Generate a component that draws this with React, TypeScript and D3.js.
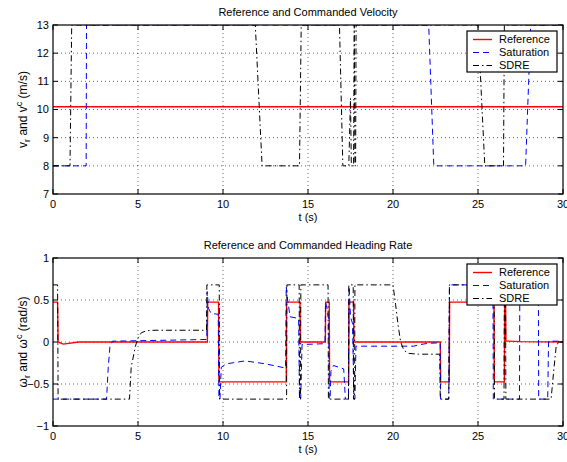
import * as d3 from 'd3'

const W = 567
const H = 462

// x axis, shared by both panels
const xTicks = [0, 5, 10, 15, 20, 25, 30]

// top panel: velocity (m/s)
const velTicks = [7, 8, 9, 10, 11, 12, 13]
const velRefT = [0, 30]
const velRefV = [10.1, 10.1]
const velSatT = [0, 1.95, 1.97, 22.1, 22.4, 27.8, 28.1, 30]
const velSatV = [8, 8, 13, 13, 8, 8, 13, 13]
const velSdreT = [0, 1.0, 1.1, 11.9, 12.3, 14.5, 14.6, 16.85, 17.05, 17.4, 17.5, 17.55, 17.68, 17.72, 17.76, 17.8, 17.83, 25.0, 25.4, 26.5, 26.55, 30]
const velSdreV = [8, 8, 13, 13, 8, 8, 13, 13, 8, 8, 10.4, 8, 8, 13, 8, 8, 13, 13, 8, 8, 13, 13]

// bottom panel: heading rate (rad/s)
const rateTicks = [-1, -0.5, 0, 0.5, 1]
const rateTickLabels = ['\u22121', '\u22120.5', '0', '0.5', '1']
const rateRefT = [0, 0.27, 0.3, 0.6, 1.5, 9.08, 9.1, 9.74, 9.76, 13.72, 13.74, 14.53, 14.55, 16.02, 16.04, 16.25, 16.27, 17.39, 17.41, 17.68, 17.7, 22.78, 22.8, 23.31, 23.33, 25.94, 25.96, 26.55, 26.57, 26.62, 26.64, 27.5, 30]
const rateRefV = [0.475, 0.475, 0, -0.025, 0, 0, 0.475, 0.475, -0.475, -0.475, 0.475, 0.475, 0, 0, 0.475, 0.475, -0.475, -0.475, 0.475, 0.475, 0, 0, -0.475, -0.475, 0.475, 0.475, -0.475, -0.475, 0.475, 0.475, 0.012, 0.005, 0]
const rateSatT = [0, 3.15, 3.25, 3.35, 3.5, 5, 9.05, 9.07, 9.15, 9.3, 9.72, 9.76, 9.82, 9.9, 10.2, 11.3, 12.5, 13.68, 13.72, 13.8, 13.95, 14.45, 14.5, 14.57, 14.65, 16.0, 16.03, 16.12, 16.22, 16.25, 16.3, 16.35, 16.5, 17.1, 17.2, 17.38, 17.42, 17.5, 17.62, 17.7, 17.76, 17.82, 21.2, 21.6, 22.1, 22.78, 22.8, 23.28, 23.32, 25.88, 25.9, 27.44, 27.46, 28.55, 28.57, 29.1, 29.15, 30]
const rateSatV = [-0.68, -0.68, -0.3, -0.05, 0.01, 0.015, 0.03, 0.6, 0.4, 0.34, 0.33, -0.68, -0.68, -0.3, -0.26, -0.225, -0.26, -0.31, 0.66, 0.5, 0.3, 0.28, -0.68, -0.68, -0.03, -0.02, 0.47, 0.4, 0.26, -0.68, -0.68, -0.35, -0.28, -0.32, -0.68, -0.68, 0.66, 0.3, 0.22, -0.68, -0.68, -0.05, -0.05, -0.03, -0.015, -0.01, -0.68, -0.68, 0.68, 0.68, -0.68, -0.68, 0.68, 0.68, -0.68, -0.68, 0.01, 0.01]
const rateSdreT = [0, 0.27, 0.3, 4.5, 4.6, 4.85, 5.0, 5.2, 5.5, 6, 9.03, 9.05, 9.78, 9.8, 13.74, 13.76, 14.48, 14.5, 14.56, 14.58, 16.18, 16.2, 17.38, 17.4, 17.66, 17.68, 17.74, 17.76, 20.0, 20.15, 20.3, 20.45, 20.65, 20.9, 21.5, 22.75, 22.78, 23.28, 23.32, 25.95, 25.97, 26.53, 26.55, 26.62, 26.64, 29.3, 29.45, 29.6, 29.75, 30]
const rateSdreV = [0.68, 0.68, -0.68, -0.68, -0.3, -0.05, 0.05, 0.11, 0.135, 0.14, 0.14, 0.68, 0.68, -0.68, -0.68, 0.68, 0.68, -0.68, -0.68, 0.68, 0.68, -0.68, -0.68, 0.68, 0.68, -0.68, -0.68, 0.68, 0.68, 0.45, 0.2, 0, -0.1, -0.135, -0.145, -0.145, -0.68, -0.68, 0.68, 0.68, -0.68, -0.68, 0.68, 0.68, -0.68, -0.68, -0.35, -0.05, 0, 0]

const legendNames = ['Reference', 'Saturation', 'SDRE']

const FONT = "'Liberation Sans', Arial, Helvetica, sans-serif"
const styles = [
  { stroke: '#ff0000', width: 1.4, dash: undefined },
  { stroke: '#0000ff', width: 1, dash: '6,4' },
  { stroke: '#000000', width: 1, dash: '6,3,1.5,3' },
]

const x = d3.scaleLinear().domain([0, 30]).range([53, 563])

function Panel({ id, top, bottom, domain, ticks, tickLabels, title, ylabel, series }) {
  const y = d3.scaleLinear().domain(domain).range([bottom, top])
  const [x0, x1] = x.range()
  const line = (t, v) =>
    d3.line<number>().x((_, i) => x(t[i])).y(d => y(d))(v)
  const lx = 467
  const ly = top + 6
  return (
    <g>
      <defs>
        <clipPath id={id}>
          <rect x={x0} y={top} width={x1 - x0} height={bottom - top} />
        </clipPath>
      </defs>
      <rect x={x0} y={top} width={x1 - x0} height={bottom - top} fill="#fff" />
      {/* grid */}
      {xTicks.slice(1, -1).map(t => (
        <line key={'gx' + t} x1={x(t)} x2={x(t)} y1={top} y2={bottom}
          stroke="#000" strokeOpacity={0.75} strokeWidth={0.8} strokeDasharray="1,3" />
      ))}
      {ticks.slice(1, -1).map(t => (
        <line key={'gy' + t} x1={x0} x2={x1} y1={y(t)} y2={y(t)}
          stroke="#000" strokeOpacity={0.75} strokeWidth={0.8} strokeDasharray="1,3" />
      ))}
      {/* data */}
      <g clipPath={`url(#${id})`}>
        {series.map((s, i) => (
          <path key={i} d={line(s[0], s[1])} fill="none" stroke={styles[i].stroke}
            strokeWidth={styles[i].width} strokeDasharray={styles[i].dash} />
        ))}
      </g>
      {/* ticks inside on all sides */}
      {xTicks.map(t => (
        <g key={'tx' + t}>
          <line x1={x(t)} x2={x(t)} y1={bottom} y2={bottom - 5} stroke="#000" />
          <line x1={x(t)} x2={x(t)} y1={top} y2={top + 5} stroke="#000" />
          <text x={x(t)} y={bottom + 14} textAnchor="middle" fontSize={11} fontFamily={FONT}>{t}</text>
        </g>
      ))}
      {ticks.map((t, i) => (
        <g key={'ty' + t}>
          <line x1={x0} x2={x0 + 5} y1={y(t)} y2={y(t)} stroke="#000" />
          <line x1={x1} x2={x1 - 5} y1={y(t)} y2={y(t)} stroke="#000" />
          <text x={x0 - 4} y={y(t)} dy="0.35em" textAnchor="end" fontSize={11} fontFamily={FONT}>{tickLabels[i]}</text>
        </g>
      ))}
      <rect x={x0} y={top} width={x1 - x0} height={bottom - top} fill="none" stroke="#000" strokeWidth={1.2} />
      <text x={(x0 + x1) / 2} y={top - 9} textAnchor="middle" fontSize={11} fontFamily={FONT}>{title}</text>
      <text x={(x0 + x1) / 2} y={bottom + 27} textAnchor="middle" fontSize={11} fontFamily={FONT}>t (s)</text>
      <text transform={`translate(27,${(top + bottom) / 2}) rotate(-90)`} textAnchor="middle" fontSize={12} fontFamily={FONT}>
        {ylabel[0]}<tspan fontSize={9} dy={3}>r</tspan><tspan dy={-3}> and {ylabel[0]}</tspan><tspan fontSize={9} dy={-5}>c</tspan><tspan dy={5}> ({ylabel[1]})</tspan>
      </text>
      {/* legend */}
      <rect x={lx} y={ly} width={90} height={41} fill="#fff" stroke="#000" strokeWidth={1.2} />
      {legendNames.map((n, i) => (
        <g key={n}>
          <line x1={lx + 6} x2={lx + 25} y1={ly + 8.5 + i * 13} y2={ly + 8.5 + i * 13}
            stroke={styles[i].stroke} strokeWidth={styles[i].width} strokeDasharray={styles[i].dash} />
          <text x={lx + 32} y={ly + 8.5 + i * 13} dy="0.35em" fontSize={11} fontFamily={FONT}>{n}</text>
        </g>
      ))}
    </g>
  )
}

export default function App() {
  return (
    <svg width={W} height={H} style={{ position: 'absolute', left: 0, top: 0, background: '#fff' }}>
      <rect width={W} height={H} fill="#fff" />
      <Panel id="clipVel" top={25} bottom={194} domain={[7, 13]} ticks={velTicks}
        tickLabels={velTicks.map(String)} title="Reference and Commanded Velocity"
        ylabel={['v', 'm/s']}
        series={[[velRefT, velRefV], [velSatT, velSatV], [velSdreT, velSdreV]]} />
      <Panel id="clipRate" top={258} bottom={426} domain={[-1, 1]} ticks={rateTicks}
        tickLabels={rateTickLabels} title="Reference and Commanded Heading Rate"
        ylabel={['\u03c9', 'rad/s']}
        series={[[rateRefT, rateRefV], [rateSatT, rateSatV], [rateSdreT, rateSdreV]]} />
    </svg>
  )
}
